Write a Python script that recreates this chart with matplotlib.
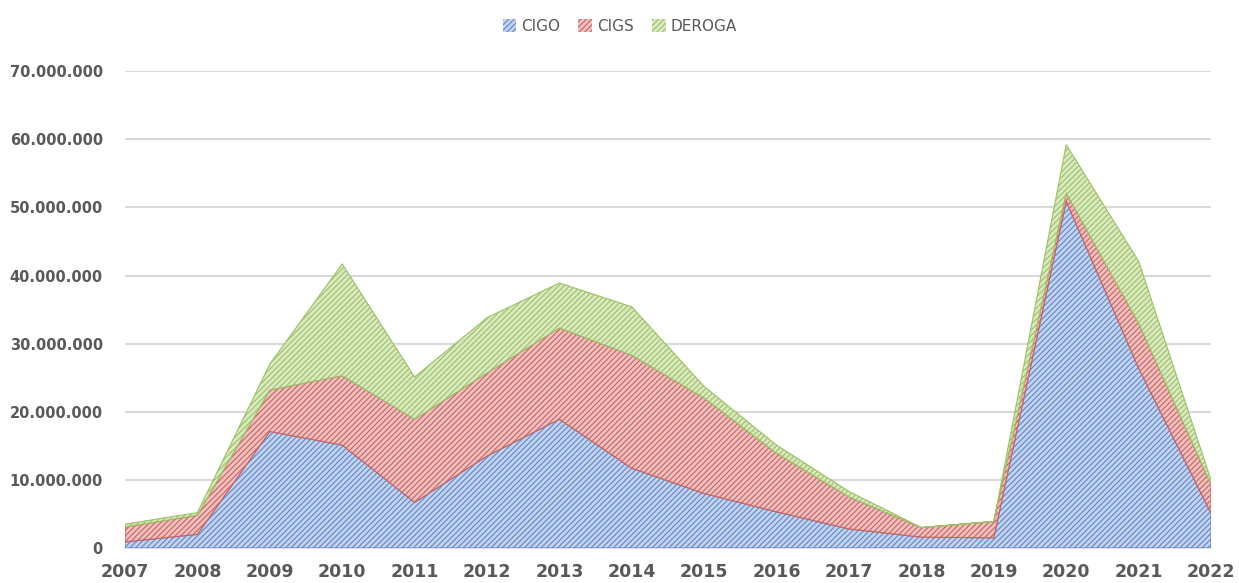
import numpy as np
import matplotlib
matplotlib.use('Agg')
import matplotlib.pyplot as plt
from matplotlib.patches import Patch
from matplotlib.ticker import FuncFormatter

years = list(range(2007, 2023))
cigo = [900000, 2000000, 17100000, 15100000, 6700000, 13500000, 18900000, 11700000,
        8000000, 5300000, 2800000, 1600000, 1500000, 50900000, 26400000, 5100000]
cigs = [2200000, 2800000, 6100000, 10200000, 12200000, 12200000, 13400000, 16600000,
        14000000, 8600000, 4700000, 1400000, 2400000, 1200000, 6600000, 4200000]
deroga = [400000, 400000, 3800000, 16400000, 6200000, 8100000, 6600000, 7100000,
          1700000, 1200000, 800000, 0, 0, 7100000, 9100000, 700000]

labels = ['CIGO', 'CIGS', 'DEROGA']
line_cols = ['#5b86cc', '#cc5f5c', '#9cc163']
fill_cols = ['#c4d4ef', '#efc2c1', '#d9e9c2']

plt.rcParams['hatch.linewidth'] = 0.8
plt.rcParams['font.family'] = ['DejaVu Sans']

fig = plt.figure(figsize=(12.39, 5.83), dpi=100)
ax = fig.add_axes([0.1009, 0.060, 0.8765, 0.818])

series = [np.array(cigo), np.array(cigs), np.array(deroga)]
base = np.zeros(len(years))
for vals, lc, fc, lbl in zip(series, line_cols, fill_cols, labels):
    top = base + vals
    ax.fill_between(years, base, top, facecolor=fc, edgecolor=lc,
                    hatch='//////', linewidth=0.8, label=lbl, zorder=3)
    base = top

ax.set_xlim(2007, 2022)
ax.set_ylim(0, 70000000)
ax.set_yticks(np.arange(0, 70000001, 10000000))
ax.set_xticks(years)
ax.yaxis.set_major_formatter(FuncFormatter(lambda v, p: f"{int(v):,}".replace(',', '.')))

ax.grid(axis='y', color='#d9d9d9', linewidth=1.5, zorder=0)
ax.set_axisbelow(True)
for s in ['top', 'right', 'left']:
    ax.spines[s].set_visible(False)
ax.spines['bottom'].set_color('#d9d9d9')
ax.spines['bottom'].set_linewidth(1.2)

ax.tick_params(axis='both', length=0, colors='#595959')
ax.tick_params(axis='y', pad=16, labelsize=10.5)
ax.tick_params(axis='x', pad=11, labelsize=12.5)
for t in ax.get_yticklabels() + ax.get_xticklabels():
    t.set_fontweight('bold')

handles = [Patch(facecolor=fc, edgecolor=lc, hatch='//////', linewidth=0, label=l)
           for fc, lc, l in zip(fill_cols, line_cols, labels)]
fig.legend(handles=handles, loc='center', bbox_to_anchor=(0.5, 0.955), ncol=3,
           frameon=False, fontsize=11, labelcolor='#595959', handlelength=0.9,
           handleheight=0.9, handletextpad=0.3, columnspacing=1.2)

fig.savefig('out.png', dpi=100)
